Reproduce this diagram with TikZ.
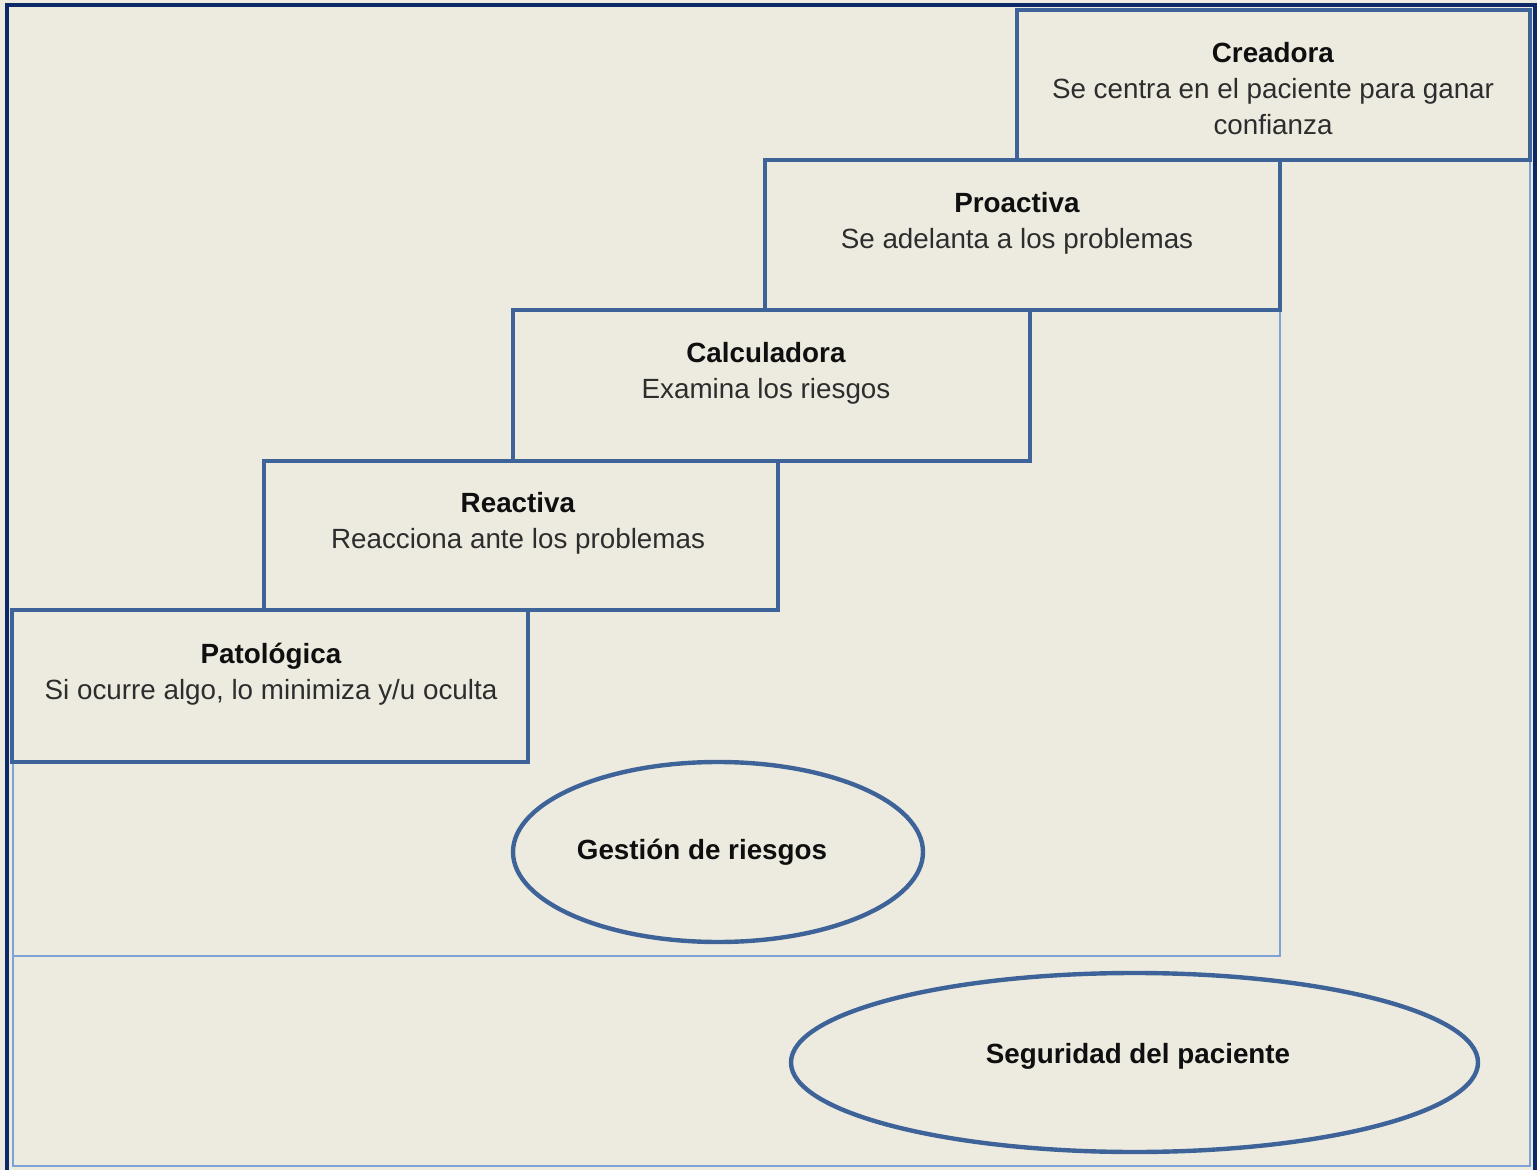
\documentclass[tikz,border=0pt]{standalone}
\usepackage{fontspec}
\setmainfont{Liberation Sans}
\usetikzlibrary{shapes.geometric}
\definecolor{paper}{RGB}{237,235,224}
\definecolor{framecol}{RGB}{12,40,105}
\definecolor{stepline}{RGB}{62,99,152}
\definecolor{zone}{RGB}{125,163,214}
\definecolor{subtext}{RGB}{45,45,45}
\definecolor{titletext}{RGB}{15,15,15}

\begin{document}
\begin{tikzpicture}[x=0.5pt,y=-0.5pt,
  stepbox/.style={draw=stepline, line width=2.4pt, fill=paper, rectangle, inner sep=0pt, outer sep=0pt},
  steptext/.style={anchor=north, align=center, inner sep=0pt, font=\fontsize{13.9}{18}\selectfont, text=subtext},
  zoneline/.style={draw=zone, line width=1.1pt},
  oval/.style={draw=stepline, line width=2.2pt, ellipse, inner sep=0pt},
  ovaltext/.style={anchor=base, inner sep=0pt, font=\fontsize{13.9}{18}\selectfont\bfseries, text=titletext}
]
\useasboundingbox[fill=paper] (0,0) rectangle (1537,1170);

% outer frame
\draw[framecol, line width=1.8pt] (7,1190) -- (7,5) -- (1535,5) -- (1535,1190);

% nested zones: risk management inside patient safety
\coordinate (gTop) at (1280,310);
\coordinate (gCorner) at (1280,956);
\coordinate (gLeft) at (13,956);
\coordinate (gEnd) at (13,762);
\coordinate (sTop) at (1530,160);
\coordinate (sCorner) at (1530,1166);
\coordinate (sLeft) at (13,1166);
\draw[zoneline] (gTop) -- (gCorner) -- (gLeft) -- (gEnd);
\draw[zoneline] (sTop) -- (sCorner) -- (sLeft) -- (gLeft);

% the five steps of the safety culture
\node[stepbox, minimum width=256.5pt, minimum height=75pt] (creadora) at (1273.5,85) {};
\node[stepbox, minimum width=257.5pt, minimum height=75pt] (proactiva) at (1022.5,235) {};
\node[stepbox, minimum width=258.5pt, minimum height=75.5pt] (calculadora) at (771.5,385.5) {};
\node[stepbox, minimum width=257pt, minimum height=74.5pt] (reactiva) at (521,535.5) {};
\node[stepbox, minimum width=258pt, minimum height=76pt] (patologica) at (270,686) {};

\node[steptext] (tCreadora) at (1273,37) {\strut\textcolor{titletext}{\textbf{Creadora}}\\Se centra en el paciente para ganar\\confianza};
\node[steptext] (tProactiva) at (1017,187) {\strut\textcolor{titletext}{\textbf{Proactiva}}\\Se adelanta a los problemas};
\node[steptext] (tCalculadora) at (766,337) {\strut\textcolor{titletext}{\textbf{Calculadora}}\\Examina los riesgos};
\node[steptext] (tReactiva) at (518,487) {\strut\textcolor{titletext}{\textbf{Reactiva}}\\Reacciona ante los problemas};
\node[steptext] (tPatologica) at (271,638) {\strut\textcolor{titletext}{\textbf{Patológica}}\\Si ocurre algo, lo minimiza y/u oculta};

% zone labels
\node[oval, minimum width=205pt, minimum height=90pt] (gestion) at (718,852) {};
\node[ovaltext] (tGestion) at (702,859) {Gestión de riesgos};
\node[oval, minimum width=343.5pt, minimum height=89.5pt] (seguridad) at (1134.5,1062.5) {};
\node[ovaltext] (tSeguridad) at (1138,1063) {Seguridad del paciente};
\end{tikzpicture}
\end{document}
